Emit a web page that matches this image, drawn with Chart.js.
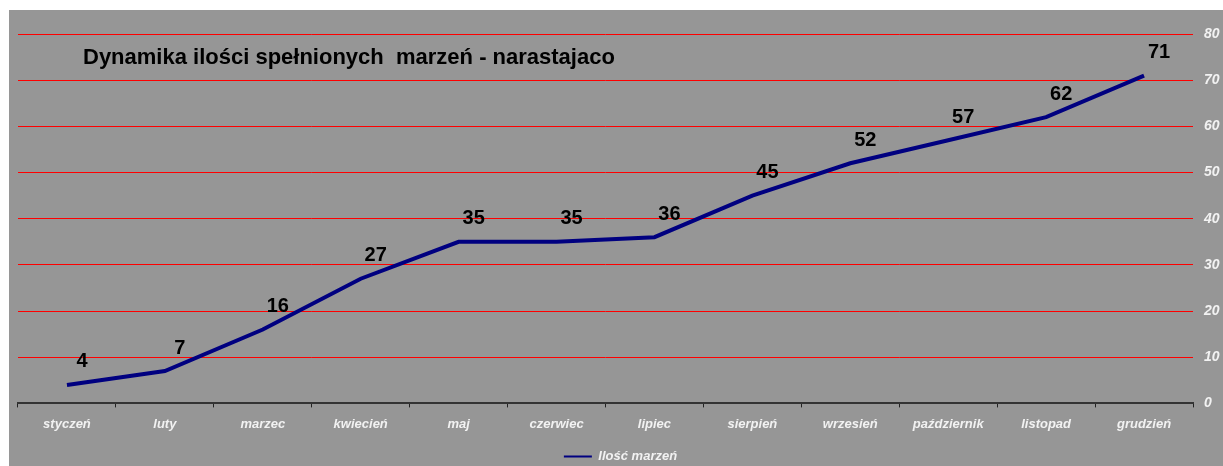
<!DOCTYPE html>
<html><head><meta charset="utf-8">
<script src="https://cdn.jsdelivr.net/npm/chart.js@4/dist/chart.umd.min.js"></script>
<style>
html,body{margin:0;padding:0;background:#fff;}
#wrap{position:absolute;left:9px;top:10px;width:1214px;height:456px;background:#969696;overflow:hidden;}
</style></head><body>
<div id="wrap"><canvas id="c" width="1214" height="456"></canvas></div>
<script>
const categories = ['styczeń','luty','marzec','kwiecień','maj','czerwiec','lipiec','sierpień','wrzesień','październik','listopad','grudzień'];
const values = [4,7,16,27,35,35,36,45,52,57,62,71];
const seriesName = 'Ilość marzeń';
const titleText = 'Dynamika ilości spełnionych  marzeń - narastajaco';

const FONT = '"Liberation Sans", Arial, sans-serif';
const overlay = {
  id:'overlay',
  afterDatasetsDraw(chart){
    const ctx = chart.ctx, area = chart.chartArea;
    ctx.save();
    ctx.fillStyle = '#000';
    ctx.font = 'bold 22px ' + FONT;
    ctx.textBaseline = 'middle';
    ctx.textAlign = 'left';
    ctx.fillText(titleText, area.left + 65, area.top + 24);
    ctx.font = 'bold 20px ' + FONT;
    ctx.textAlign = 'center';
    const meta = chart.getDatasetMeta(0);
    meta.data.forEach((p,i)=>{
      ctx.fillText(String(values[i]), p.x + 15, p.y - 23);
    });
    ctx.restore();
  }
};

new Chart(document.getElementById('c'), {
  type:'line',
  data:{labels:categories, datasets:[{label:seriesName, data:values, borderColor:'#000080', backgroundColor:'#000080', borderWidth:4, pointRadius:0, tension:0}]},
  options:{
    responsive:false, animation:false,
    layout:{padding:{left:9, top:24, right:0, bottom:-7}},
    plugins:{
      legend:{position:'bottom', labels:{usePointStyle:true, pointStyle:'line', pointStyleWidth:28, boxWidth:28, color:'#f2f2f2', font:{family:FONT, size:13, style:'italic', weight:'bold'}, padding:4,
        generateLabels(chart){
          const items = Chart.defaults.plugins.legend.labels.generateLabels(chart);
          items.forEach(it=>{it.lineWidth = 2;});
          return items;
        }}},
      tooltip:{enabled:false}
    },
    scales:{
      x:{offset:true, afterFit(scale){scale.height += 5;}, grid:{offset:true, drawOnChartArea:false, drawTicks:true, tickLength:4, color:'#222'}, border:{color:'#333', width:2},
         ticks:{color:'#f2f2f2', padding:9, maxRotation:0, font:{family:FONT, size:13, style:'italic', weight:'bold'}}},
      y:{position:'right', min:0, max:80, afterFit(scale){scale.width = 30;},
         ticks:{stepSize:10, color:'#f2f2f2', padding:11, font:{family:FONT, size:14, style:'italic', weight:'bold'}},
         grid:{color:'#ff0000', drawTicks:false, lineWidth:1}, border:{display:false}}
    }
  },
  plugins:[overlay]
});
</script></body></html>
